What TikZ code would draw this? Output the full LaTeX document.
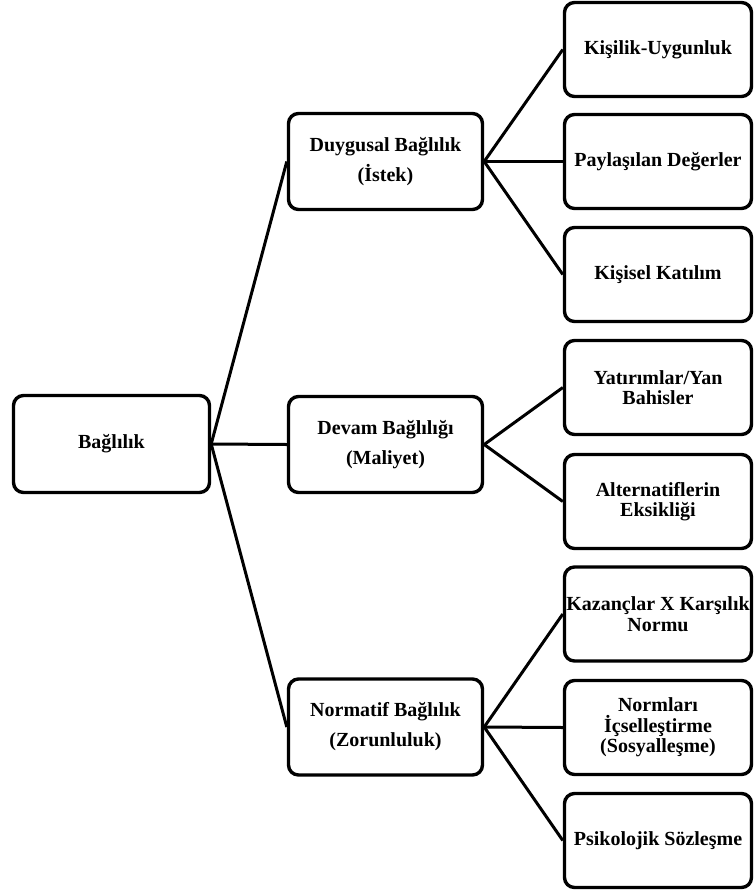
\documentclass[tikz,border=0pt]{standalone}
\usepackage{fontspec}
\setmainfont{Liberation Serif}
\begin{document}
\begin{tikzpicture}[x=1pt,y=-1pt,
  card/.style={draw=black, line width=3.4pt, rounded corners=10pt, align=center,
    inner sep=0pt, font=\bfseries},
  rootbox/.style={card, minimum width=196pt, minimum height=97pt,
    font=\fontsize{20}{24}\selectfont\bfseries},
  midbox/.style={card, minimum width=194pt, minimum height=96pt,
    font=\fontsize{20}{30}\selectfont\bfseries},
  leafbox/.style={card, minimum width=187pt, minimum height=94pt,
    font=\fontsize{20}{20.5}\selectfont\bfseries},
  link/.style={draw=black, line width=3pt}]
\useasboundingbox (0,0) rectangle (754,892);

% root
\node[rootbox] (root) at (111.5,444) {Bağlılık};

% three kinds of commitment
\node[midbox] (aff) at (385.5,161.5) {Duygusal Bağlılık\\(İstek)};
\node[midbox] (cont) at (385.5,444.5) {Devam Bağlılığı\\(Maliyet)};
\node[midbox] (norm) at (385.5,727) {Normatif Bağlılık\\(Zorunluluk)};

% leaves
\node[leafbox] (l1) at (658,49.5) {Kişilik-Uygunluk};
\node[leafbox] (l2) at (658,161.5) {Paylaşılan Değerler};
\node[leafbox] (l3) at (658,274.5) {Kişisel Katılım};
\node[leafbox] (l4) at (658,387.5) {Yatırımlar/Yan\\Bahisler};
\node[leafbox] (l5) at (658,501.5) {Alternatiflerin\\Eksikliği};
\node[leafbox] (l6) at (658,614) {Kazançlar X Karşılık\\Normu};
\node[leafbox] (l7) at (658,727.5) {Normları\\İçselleştirme\\(Sosyalleşme)};
\node[leafbox] (l8) at (658,840.5) {Psikolojik Sözleşme};

% connectors
\foreach \m in {aff,cont,norm} \draw[link] (root.east) -- (\m.west);
\foreach \l in {l1,l2,l3} \draw[link] (aff.east) -- (\l.west);
\foreach \l in {l4,l5} \draw[link] (cont.east) -- (\l.west);
\foreach \l in {l6,l7,l8} \draw[link] (norm.east) -- (\l.west);
\end{tikzpicture}
\end{document}
